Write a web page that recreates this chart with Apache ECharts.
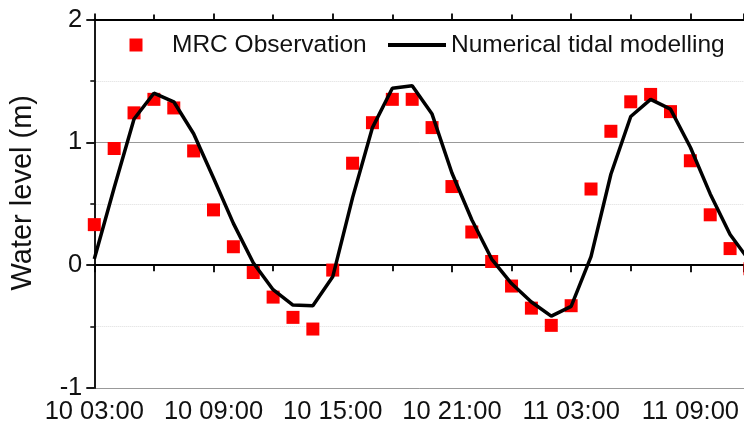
<!DOCTYPE html>
<html>
<head>
<meta charset="utf-8">
<script src="https://cdn.jsdelivr.net/npm/echarts@6/dist/echarts.min.js"></script>
<style>
html,body{margin:0;padding:0;background:#fff;}
#chart{width:744px;height:431px;}
</style>
</head>
<body>
<div id="chart"></div>
<script>
// Hourly samples starting at "10 03:00" (hour offset = index)
const obsName = 'MRC Observation';
const modelName = 'Numerical tidal modelling';
const tickLabels = ['10 03:00', '10 09:00', '10 15:00', '10 21:00', '11 03:00', '11 09:00', '11 15:00'];
const yTicks = [-1, 0, 1, 2];
const observation = [0.33, 0.95, 1.24, 1.35, 1.28, 0.93, 0.45, 0.15, -0.06, -0.26, -0.425, -0.52,
  -0.04, 0.83, 1.16, 1.35, 1.35, 1.12, 0.64, 0.27, 0.03, -0.17, -0.35, -0.49,
  -0.33, 0.62, 1.09, 1.33, 1.39, 1.25, 0.85, 0.41, 0.135, -0.03];
const model = [0.05, 0.63, 1.19, 1.40, 1.33, 1.07, 0.71, 0.34, 0.02, -0.20, -0.325, -0.33,
  -0.095, 0.55, 1.12, 1.44, 1.46, 1.23, 0.75, 0.37, 0.05, -0.15, -0.30, -0.415,
  -0.335, 0.07, 0.74, 1.21, 1.35, 1.27, 0.96, 0.58, 0.25, 0.03];

const FONT = 'Liberation Sans, Arial, sans-serif';
const chart = echarts.init(document.getElementById('chart'), null, {renderer: 'canvas'});

// visible window ends at the right edge of the picture (~11 11:42)
const xMax = 32.7;

const xCommon = {
  type: 'value', min: 0, max: xMax, interval: 6,
  axisLine: {show: true, lineStyle: {color: '#000', width: 1.8}},
  splitLine: {show: false}
};

chart.setOption({
  animation: false,
  backgroundColor: '#fff',
  grid: {left: 94.3, top: 19.5, bottom: 43, right: 0, containLabel: false},
  legend: [
    {
      left: 129.5, top: 31, padding: 0, itemWidth: 13, itemHeight: 13,
      icon: 'rect',
      data: [obsName],
      formatter: '{a|{name}}',
      textStyle: {fontFamily: FONT, fontSize: 24.5, color: '#111', lineHeight: 28,
        rich: {a: {fontFamily: FONT, fontSize: 24.5, color: '#111', lineHeight: 28, padding: [0, 0, 0, 24.5]}}}
    },
    {
      left: 388, top: 31, padding: 0, itemWidth: 58, itemHeight: 13,
      data: [{name: modelName, icon: 'path://M0 0H58V4H0Z', itemStyle: {color: '#000'}}],
      textStyle: {fontFamily: FONT, fontSize: 24.5, color: '#111', lineHeight: 28}
    }
  ],
  xAxis: [
    Object.assign({}, xCommon, {
      position: 'bottom',
      axisTick: {show: true, inside: false, length: 7, lineStyle: {color: '#000', width: 1.8}},
      minorTick: {show: true, splitNumber: 2, length: 6, lineStyle: {color: '#000', width: 1.8}},
      axisLabel: {
        margin: 11, color: '#111', fontFamily: FONT, fontSize: 25.5,
        showMaxLabel: false,
        formatter: function (v) {
          if (Math.abs(v / 6 - Math.round(v / 6)) > 1e-6) return '';
          return tickLabels[Math.round(v / 6)] || '';
        }
      }
    }),
    Object.assign({}, xCommon, {
      position: 'top',
      axisTick: {show: true, inside: false, length: 6, lineStyle: {color: '#000', width: 1.8}},
      minorTick: {show: true, splitNumber: 2, length: 5, lineStyle: {color: '#000', width: 1.8}},
      axisLabel: {show: false}
    })
  ],
  yAxis: {
    type: 'value', min: yTicks[0], max: yTicks[yTicks.length - 1], interval: 1,
    name: 'Water level (m)',
    nameLocation: 'middle',
    nameGap: 57,
    nameTextStyle: {fontFamily: FONT, fontSize: 29, color: '#111', padding: [0, 0, 0, 22]},
    axisLine: {show: true, lineStyle: {color: '#000', width: 1.8}},
    axisTick: {show: true, inside: false, length: 8, lineStyle: {color: '#000', width: 1.8}},
    minorTick: {show: true, splitNumber: 2, length: 4, lineStyle: {color: '#000', width: 1.5}},
    axisLabel: {margin: 12, color: '#111', fontFamily: FONT, fontSize: 25.5},
    splitLine: {show: true, lineStyle: {color: '#999', width: 1}},
    minorSplitLine: {show: true, lineStyle: {color: '#ddd', width: 1, type: 'dotted'}}
  },
  series: [
    {
      name: obsName, type: 'scatter', xAxisIndex: 0,
      symbol: 'rect', symbolSize: 13,
      itemStyle: {color: '#ff0000', opacity: 1},
      clip: false,
      z: 2,
      data: observation.map(function (v, i) { return [i, v]; })
    },
    {
      name: modelName, type: 'line', xAxisIndex: 0,
      symbol: 'none', showSymbol: false,
      lineStyle: {color: '#000', width: 3.5},
      itemStyle: {color: '#000'},
      clip: false,
      z: 3,
      data: model.map(function (v, i) { return [i, v]; })
    }
  ]
});
</script>
</body>
</html>
